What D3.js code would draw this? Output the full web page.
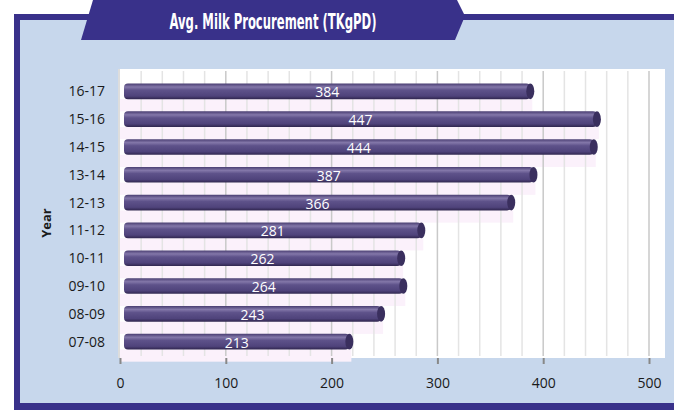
<!DOCTYPE html>
<html>
<head>
<meta charset="utf-8">
<script src="https://cdn.jsdelivr.net/npm/d3@7"></script>
<style>
  html, body { margin: 0; padding: 0; background: #fff; }
  svg { display: block; }
</style>
</head>
<body>
<div id="chart"></div>
<script>
const years = ["16-17", "15-16", "14-15", "13-14", "12-13", "11-12", "10-11", "09-10", "08-09", "07-08"];
const procurement = [384, 447, 444, 387, 366, 281, 262, 264, 243, 213];
const xTicks = [0, 100, 200, 300, 400, 500];
const title = "Avg. Milk Procurement (TKgPD)";
const yTitle = "Year";

const width = 674, height = 410;
const dark = "#39318a", light = "#c7d7ec";

const svg = d3.select("#chart").append("svg")
  .attr("width", width)
  .attr("height", height);

// frame
svg.append("rect").attr("x", 14).attr("y", 14).attr("width", 700).attr("height", 396).attr("fill", dark);
svg.append("rect").attr("x", 20).attr("y", 20).attr("width", 700).attr("height", 383).attr("fill", light);

// title banner
svg.append("path")
  .attr("d", "M93,0 L457,0 L465,16 L455,40 L81,40 Z")
  .attr("fill", dark);
svg.append("text")
  .attr("x", 273).attr("y", 28.5)
  .attr("text-anchor", "middle")
  .attr("fill", "#fff")
  .attr("font-family", "'DejaVu Sans', sans-serif")
  .attr("font-stretch", "condensed")
  .attr("font-weight", "bold")
  .attr("font-size", 21)
  .attr("textLength", 207)
  .attr("lengthAdjust", "spacingAndGlyphs")
  .text(title);

// plot area
const plot = { x0: 118, x1: 665, y0: 69, y1: 358 };

const x = d3.scaleLinear().domain([0, 500]).range([120, 649]);
const y = d3.scaleBand().domain(years).range([78, 355]).paddingInner(0.44).paddingOuter(0.2);

const defs = svg.append("defs");
const grad = defs.append("linearGradient").attr("id", "barGrad")
  .attr("x1", 0).attr("y1", 0).attr("x2", 0).attr("y2", 1);
grad.append("stop").attr("offset", "0%").attr("stop-color", "#4a3e72");
grad.append("stop").attr("offset", "22%").attr("stop-color", "#8377a9");
grad.append("stop").attr("offset", "42%").attr("stop-color", "#5e528a");
grad.append("stop").attr("offset", "80%").attr("stop-color", "#4f437b");
grad.append("stop").attr("offset", "100%").attr("stop-color", "#30264f");

svg.append("rect")
  .attr("x", plot.x0).attr("y", plot.y0)
  .attr("width", plot.x1 - plot.x0).attr("height", plot.y1 - plot.y0)
  .attr("fill", "#fff");

// faint pinkish bands behind bars
svg.append("g").selectAll("rect")
  .data(years)
  .join("rect")
  .attr("x", plot.x0 + 2)
  .attr("y", d => y(d) + y.bandwidth())
  .attr("width", (d, i) => x(procurement[i]) - plot.x0 + 4)
  .attr("height", y.step() - y.bandwidth())
  .attr("fill", "#fbf1fb");

// vertical grid
svg.append("g").selectAll("line")
  .data(d3.range(20, 520, 20))
  .join("line")
  .attr("x1", d => x(d)).attr("x2", d => x(d))
  .attr("y1", plot.y0 + 2).attr("y2", plot.y1 - 2)
  .attr("stroke", d => d % 100 === 0 ? "#c9c9c9" : "#e4e4e4")
  .attr("stroke-width", 1.5);

svg.append("line")
  .attr("x1", plot.x0 + 1).attr("x2", plot.x0 + 1)
  .attr("y1", plot.y0).attr("y2", plot.y1)
  .attr("stroke", "#bbb");

// bars
const bars = svg.append("g").selectAll("g")
  .data(years)
  .join("g");

bars.append("rect")
  .attr("x", x(0) + 4)
  .attr("y", d => y(d))
  .attr("width", (d, i) => x(procurement[i]) + 4 - x(0) - 4)
  .attr("height", y.bandwidth())
  .attr("rx", 4)
  .attr("fill", "url(#barGrad)");

bars.append("ellipse")
  .attr("cx", (d, i) => x(procurement[i]) + 4)
  .attr("cy", d => y(d) + y.bandwidth() / 2)
  .attr("rx", 4)
  .attr("ry", y.bandwidth() / 2)
  .attr("fill", "#3a2f5e");

bars.append("text")
  .attr("x", (d, i) => (x(0) + 4 + x(procurement[i]) + 4) / 2)
  .attr("y", d => y(d) + y.bandwidth() / 2 + 6)
  .attr("text-anchor", "middle")
  .attr("fill", "#fff")
  .attr("font-family", "'Open Sans', 'Noto Sans', sans-serif")
  .attr("font-size", 14)
  .text((d, i) => procurement[i]);

// y axis labels
svg.append("g").selectAll("text")
  .data(years)
  .join("text")
  .attr("x", 105)
  .attr("y", d => y(d) + y.bandwidth() / 2 + 5)
  .attr("text-anchor", "end")
  .attr("fill", "#1a1a1a")
  .attr("font-family", "'Open Sans', 'Noto Sans', sans-serif")
  .attr("font-size", 14)
  .text(d => d);

svg.append("text")
  .attr("transform", "translate(51,223) rotate(-90)")
  .attr("text-anchor", "middle")
  .attr("fill", "#1a1a1a")
  .attr("font-family", "'Open Sans', 'Noto Sans', sans-serif")
  .attr("font-weight", "bold")
  .attr("font-size", 13)
  .text(yTitle);

// x axis
const xAxis = svg.append("g")
  .attr("transform", `translate(0,${plot.y1})`)
  .call(d3.axisBottom(x).tickValues(xTicks).tickSize(6).tickPadding(14));
xAxis.select(".domain").remove();
xAxis.selectAll(".tick line").attr("stroke", "#888").attr("stroke-width", 2);
xAxis.selectAll(".tick text")
  .attr("fill", "#1a1a1a")
  .attr("font-family", "'Open Sans', 'Noto Sans', sans-serif")
  .attr("font-size", 14);
</script>
</body>
</html>
